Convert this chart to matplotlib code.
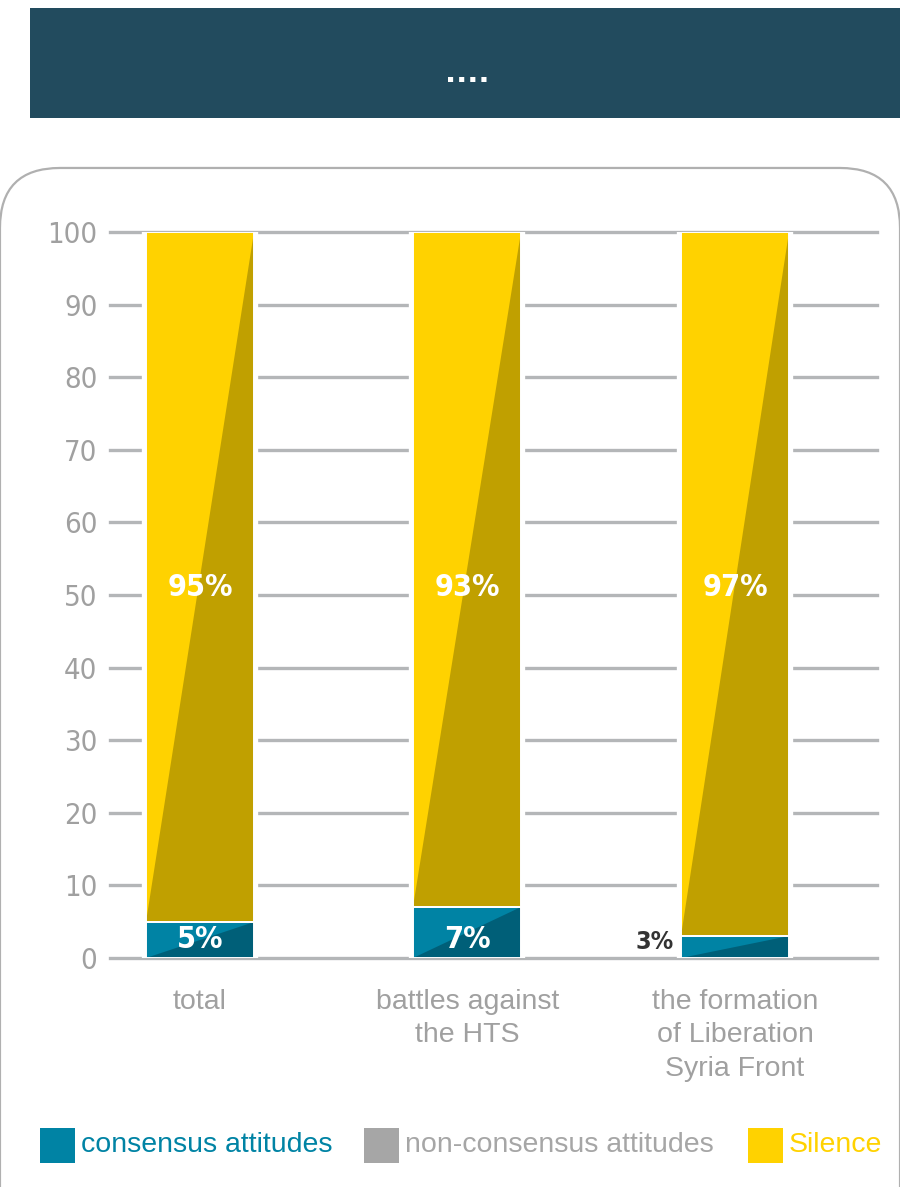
import matplotlib
matplotlib.use("Agg")
import matplotlib.pyplot as plt
from matplotlib.patches import Rectangle, FancyBboxPatch, Polygon
import matplotlib.font_manager as fm

# ---- data ----
categories = ["total", "battles against\nthe HTS", "the formation\nof Liberation\nSyria Front"]
consensus = [5, 7, 3]
non_consensus = [0, 0, 0]
silence = [95, 93, 97]
yticks = [0, 10, 20, 30, 40, 50, 60, 70, 80, 90, 100]
legend_labels = ["consensus attitudes", "non-consensus attitudes", "Silence"]
title_text = "...."

# ---- style ----
W, H = 900, 1187
C_BLUE, C_BLUE_D = "#0083A4", "#005F78"
C_GRAY = "#A6A6A6"
C_YEL, C_YEL_D = "#FFD200", "#C0A000"
C_GRID = "#B4B6B8"
C_TXT = "#A0A0A0"
HEADER = "#224B5E"

# find a narrow/condensed face if any exists
cands = []
for f in fm.fontManager.ttflist:
    nm = (f.name + " " + f.fname).lower()
    if ("narrow" in nm or "condensed" in nm or f.stretch in ("condensed", "semi-condensed", "extra-condensed")):
        cands.append(f)
def pick(weight_bold):
    best = None
    for f in cands:
        isbold = (f.weight in ("bold", 700) or "bold" in f.fname.lower())
        isital = f.style != "normal" or "italic" in f.fname.lower() or "oblique" in f.fname.lower()
        if isital:
            continue
        if isbold == weight_bold:
            return f.fname
        best = best or f.fname
    return best
nr = pick(False)
nb = pick(True)
fp_narrow = fm.FontProperties(fname=nr) if nr else fm.FontProperties(family="DejaVu Sans")
fp_narrow_bold = fm.FontProperties(fname=nb) if nb else fm.FontProperties(family="DejaVu Sans", weight="bold")
body = "Liberation Sans"

fig = plt.figure(figsize=(W / 100, H / 100), dpi=100)

def fx(px):
    return px / W

def fy(py):
    return 1 - py / H

# header band
fig.patches.append(Rectangle((fx(30), fy(118)), fx(900) - fx(30), fy(8) - fy(118),
                             transform=fig.transFigure, facecolor=HEADER, edgecolor="none", zorder=0))
fig.text(fx(467), fy(74), title_text, color="white", fontsize=21, fontweight="bold",
         ha="center", va="center", family="DejaVu Sans")

# rounded frame
fig.patches.append(FancyBboxPatch((fx(60), fy(1250)), fx(780), fy(228) - fy(1250),
                                  boxstyle="round,pad=0.0667,rounding_size=0.0667",
                                  transform=fig.transFigure, facecolor="none",
                                  edgecolor="#B0B0B0", linewidth=1.6, zorder=0,
                                  mutation_aspect=W / H))

# axes
ax_left, ax_right, ax_top, ax_bot = 110, 877, 232, 958
ax = fig.add_axes([fx(ax_left), fy(ax_bot), fx(ax_right) - fx(ax_left), fy(ax_top) - fy(ax_bot)])
x = [0, 1, 2]
bw = 0.404
ax.set_xlim(-0.336, 2.531)
ax.set_ylim(0, 100)
for s in ax.spines.values():
    s.set_visible(False)
ax.set_yticks(yticks)
ax.set_yticklabels([str(t) for t in yticks], color=C_TXT, fontproperties=fp_narrow)
for lbl in ax.get_yticklabels():
    lbl.set_fontsize(21)
    lbl.set_color(C_TXT)
ax.tick_params(axis="y", length=0, pad=9)
ax.tick_params(axis="x", length=0, pad=22)
ax.set_xticks(x)
ax.set_xticklabels(categories, color=C_TXT, fontsize=20.5, family=body, linespacing=1.38, va="top")
for t in yticks:
    ax.axhline(t, color=C_GRID, linewidth=2.4, zorder=0, clip_on=False)

for i, xi in enumerate(x):
    total = consensus[i] + non_consensus[i] + silence[i]
    # white halo to break gridlines
    ax.bar(xi, total, bw, color="white", edgecolor="white", linewidth=6, zorder=1)
    segs = [(0, consensus[i], C_BLUE, C_BLUE_D),
            (consensus[i], non_consensus[i], C_GRAY, "#8C8C8C"),
            (consensus[i] + non_consensus[i], silence[i], C_YEL, C_YEL_D)]
    for b, h, c1, c2 in segs:
        if h <= 0:
            continue
        ax.bar(xi, h, bw, bottom=b, color=c1, edgecolor="none", zorder=2)
        l, r = xi - bw / 2, xi + bw / 2
        ax.add_patch(Polygon([(l, b), (r, b), (r, b + h)], closed=True,
                             facecolor=c2, edgecolor="none", zorder=3))
        ax.add_patch(Rectangle((l, b), bw, h, facecolor="none", edgecolor="white",
                               linewidth=1.4, zorder=4))
    # labels
    ax.text(xi, 51, f"{silence[i]}%", color="white", fontproperties=fp_narrow_bold,
            fontsize=22, ha="center", va="center", zorder=5)
    if consensus[i] >= 4:
        ax.text(xi, 2.6, f"{consensus[i]}%", color="white", fontproperties=fp_narrow_bold,
                fontsize=22, ha="center", va="center", zorder=5)
    else:
        ax.text(xi - bw / 2 - 0.025, 2.2, f"{consensus[i]}%", color="#333333",
                fontproperties=fp_narrow_bold, fontsize=18, ha="right", va="center", zorder=5)

# legend
leg_colors = [C_BLUE, C_GRAY, C_YEL]
leg_txt_colors = [C_BLUE, C_GRAY, C_YEL]
leg_x = [40, 364, 748]
for lx, c, tc, lab in zip(leg_x, leg_colors, leg_txt_colors, legend_labels):
    fig.patches.append(Rectangle((fx(lx), fy(1163)), fx(35), fy(1128) - fy(1163),
                                 transform=fig.transFigure, facecolor=c, edgecolor="none"))
    fig.text(fx(lx + 41), fy(1145), lab, color=tc, fontsize=20.5, family=body,
             ha="left", va="center")

fig.savefig("out.png", dpi=100)
